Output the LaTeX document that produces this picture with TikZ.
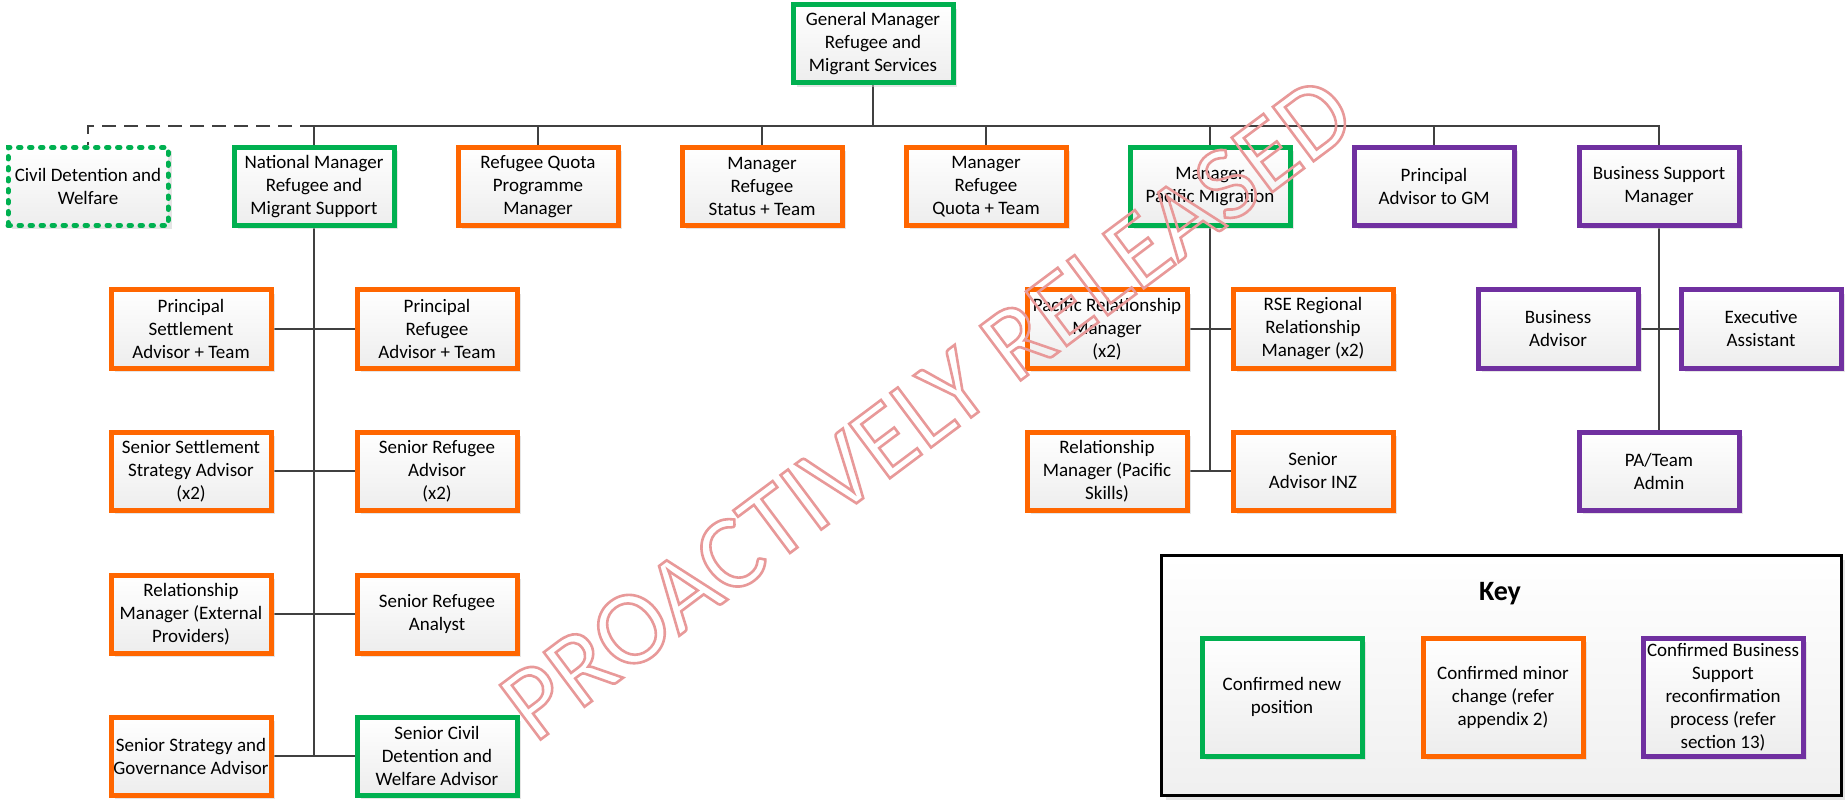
\documentclass[tikz,border=0pt]{standalone}
\usepackage{fontspec}
\setmainfont{Carlito}
\usetikzlibrary{shadows}
\pgfdeclarelayer{bg}
\pgfsetlayers{bg,main}
\definecolor{mgreen}{HTML}{00B050}
\definecolor{morange}{HTML}{FF6600}
\definecolor{mpurple}{HTML}{7030A0}
\definecolor{lineg}{HTML}{404040}
\tikzset{
  box/.style={rectangle, minimum width=160pt, minimum height=78pt, inner sep=2pt,
    align=center, line width=5pt, top color=white, bottom color=black!7,
    drop shadow={shadow xshift=4pt, shadow yshift=-4pt, fill=black!20, opacity=0.5},
    font=\fontsize{19}{23}\selectfont, text=black},
  gbox/.style={box, draw=mgreen},
  obox/.style={box, draw=morange},
  pbox/.style={box, draw=mpurple},
  keyitem/.style={minimum height=118pt},
  conn/.style={draw=lineg, line width=2.5pt},
  dconn/.style={conn, dash pattern=on 14pt off 8pt},
  dotborder/.style={dash pattern=on 2.5pt off 8.5pt, line cap=round},
}
\begin{document}
\begin{tikzpicture}[x=1pt,y=-1pt]
\useasboundingbox (0,0) rectangle (1845,802);
% top
\node[gbox] (gm) at (873,44) {General Manager\\Refugee and\\Migrant Services};
% second row
\node[gbox, dotborder] (civil) at (88,186.5) {Civil Detention and\\Welfare};
\node[gbox] (nm) at (314,186.5) {National Manager\\Refugee and\\Migrant Support};
\node[obox] (rqpm) at (538,186.5) {Refugee Quota\\Programme\\Manager};
\node[obox] (mrs) at (762,186.5) {Manager\\Refugee\\Status + Team};
\node[obox] (mrq) at (986,186.5) {Manager\\Refugee\\Quota + Team};
\node[gbox] (mpm) at (1210,186.5) {Manager\\Pacific Migration};
\node[pbox] (pag) at (1434,186.5) {Principal\\Advisor to GM};
\node[pbox] (bsm) at (1659,186.5) {Business Support\\Manager};
% left column
\node[obox] (l1) at (191,329) {Principal\\Settlement\\Advisor + Team};
\node[obox] (r1) at (437,329) {Principal\\Refugee\\Advisor + Team};
\node[obox] (l2) at (191,471) {Senior Settlement\\Strategy Advisor\\(x2)};
\node[obox] (r2) at (437,471) {Senior Refugee\\Advisor\\(x2)};
\node[obox] (l3) at (191,614) {Relationship\\Manager (External\\Providers)};
\node[obox] (r3) at (437,614) {Senior Refugee\\Analyst};
\node[obox] (l4) at (191,756) {Senior Strategy and\\Governance Advisor};
\node[gbox] (r4) at (437,756) {Senior Civil\\Detention and\\Welfare Advisor};
% pacific column
\node[obox] (pl1) at (1107,329) {Pacific Relationship\\Manager\\(x2)};
\node[obox] (pr1) at (1313,329) {RSE Regional\\Relationship\\Manager (x2)};
\node[obox] (pl2) at (1107,471) {Relationship\\Manager (Pacific\\Skills)};
\node[obox] (pr2) at (1313,471) {Senior\\Advisor INZ};
% business column
\node[pbox] (ba) at (1558,329) {Business\\Advisor};
\node[pbox] (ea) at (1761,329) {Executive\\Assistant};
\node[pbox] (pa) at (1659,471) {PA/Team\\Admin};
% key
\node[draw=black, line width=2.5pt, top color=white, bottom color=black!6,
  minimum width=680pt, minimum height=240pt,
  drop shadow={shadow xshift=4pt, shadow yshift=-4pt, fill=black!20, opacity=0.5}] (key) at (1501.5,675.5) {};
\node[font=\fontsize{28}{32}\selectfont\bfseries] (keyt) at (1500,594) {Key};
\node[gbox, keyitem] (k1) at (1282,697) {Confirmed new\\position};
\node[obox, keyitem] (k2) at (1503,697) {Confirmed minor\\change (refer\\appendix 2)};
\node[pbox, keyitem] (k3) at (1723,697) {Confirmed Business\\Support\\reconfirmation\\process (refer\\section 13)};
% connectors
\begin{pgfonlayer}{bg}
\fill[white] (0,0) rectangle (1845,802);
\coordinate (busy) at (0,126);
\draw[conn] (gm.south) -- (gm.south |- busy);
\foreach \n in {nm,rqpm,mrs,mrq,mpm,pag,bsm}
  \draw[conn] (gm.south |- busy) -| (\n.north);
\draw[dconn] (nm.north |- busy) -| (civil.north);
\draw[conn] (nm.south) -- (nm.south |- l4.east);
\foreach \i in {1,...,4}
  \draw[conn] (l\i.east) -- (r\i.west);
\draw[conn] (mpm.south) -- (mpm.south |- pl2.east);
\draw[conn] (pl1.east) -- (pr1.west);
\draw[conn] (pl2.east) -- (pr2.west);
\draw[conn] (bsm.south) -- (pa.north);
\draw[conn] (ba.east) -- (ea.west);
\end{pgfonlayer}
% watermark
\node[rotate=36.8, inner sep=0pt, font=\fontsize{106}{106}\selectfont] (wm) at (927,408)
  {\special{pdf:literal direct 1 Tr 2.6 w 0.91 0.6 0.6 RG}PROACTIVELY RELEASED\special{pdf:literal direct 0 Tr}};
\end{tikzpicture}
\end{document}
